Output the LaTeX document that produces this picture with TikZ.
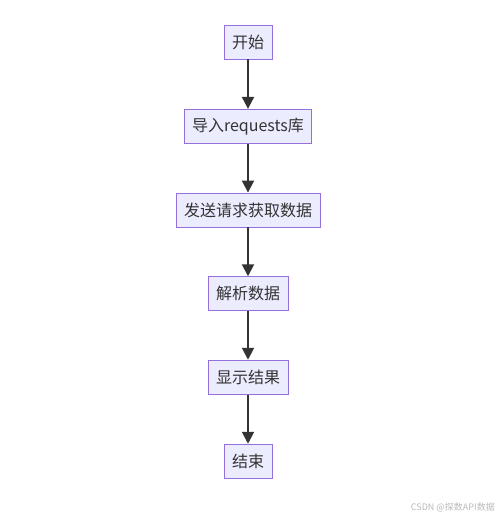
\documentclass[tikz,border=0pt]{standalone}
\usepackage{fontspec}
\setmainfont{Noto Sans CJK SC}
\usetikzlibrary{arrows.meta}
\definecolor{boxfill}{HTML}{ECECFF}
\definecolor{boxdraw}{HTML}{9370DB}
\definecolor{txt}{HTML}{333333}
\definecolor{wm}{HTML}{BBBBBB}
\tikzset{
  flowbox/.style={draw=boxdraw, fill=boxfill, line width=0.9pt, text=txt,
    font=\fontsize{16}{18}\selectfont, inner xsep=8pt, inner ysep=0pt,
    minimum height=34pt},
  flowarrow/.style={draw=txt, line width=2pt,
    -{Triangle[length=12pt,width=12pt]}, shorten >=0pt}
}
\begin{document}
\begin{tikzpicture}[x=1pt,y=-1pt]
\useasboundingbox (0,0) rectangle (500,517);
\fill[white] (0,0) rectangle (500,517);
\node[flowbox] (n1) at (248,42) {开始};
\node[flowbox] (n2) at (248,126.3) {导入requests库};
\node[flowbox] (n3) at (248,210) {发送请求获取数据};
\node[flowbox] (n4) at (248,293.7) {解析数据};
\node[flowbox] (n5) at (248,377.2) {显示结果};
\node[flowbox] (n6) at (248,461.2) {结束};
\draw[flowarrow] (n1) -- (n2);
\draw[flowarrow] (n2) -- (n3);
\draw[flowarrow] (n3) -- (n4);
\draw[flowarrow] (n4) -- (n5);
\draw[flowarrow] (n5) -- (n6);
\node[anchor=east, text=wm, font=\fontsize{9}{10}\selectfont, inner sep=0pt] (wmk) at (495,507) {CSDN @探数API数据};
\end{tikzpicture}
\end{document}
